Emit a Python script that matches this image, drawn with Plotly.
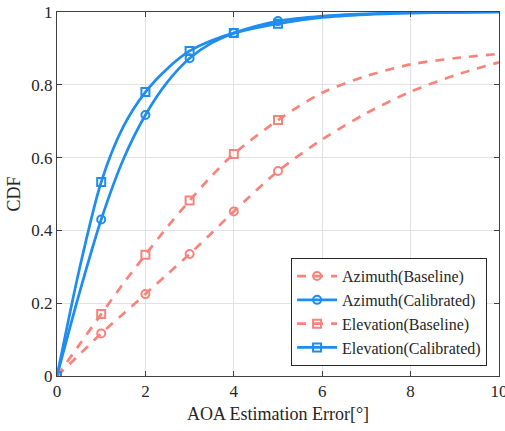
import plotly.graph_objects as go

x_curve = [0, 0.5, 1, 1.5, 2, 2.5, 3, 3.5, 4, 5, 6, 7, 8, 9, 10]
az_base = [0, 0.058, 0.117, 0.171, 0.225, 0.28, 0.335, 0.393, 0.452, 0.563, 0.65, 0.722, 0.781, 0.826, 0.862]
az_cal = [0, 0.225, 0.43, 0.595, 0.717, 0.808, 0.873, 0.915, 0.942, 0.975, 0.989, 0.995, 0.998, 0.999, 1.0]
el_base = [0, 0.085, 0.17, 0.254, 0.333, 0.41, 0.482, 0.55, 0.61, 0.703, 0.778, 0.824, 0.856, 0.873, 0.885]
el_cal = [0, 0.29, 0.533, 0.685, 0.78, 0.845, 0.893, 0.922, 0.942, 0.968, 0.985, 0.993, 0.997, 0.999, 1.0]
x_marks = [0, 1, 2, 3, 4, 5]

RED = "#F8837A"
BLUE = "#1E8CF0"
FONT = "Liberation Serif"
DASHED = "9px,8px"

series = [
    ("Azimuth(Baseline)", az_base, RED, DASHED, "circle-open"),
    ("Azimuth(Calibrated)", az_cal, BLUE, "solid", "circle-open"),
    ("Elevation(Baseline)", el_base, RED, DASHED, "square-open"),
    ("Elevation(Calibrated)", el_cal, BLUE, "solid", "square-open"),
]

fig = go.Figure()
for name, ys, col, dash, sym in series:
    fig.add_trace(go.Scatter(x=x_curve, y=ys, mode="lines", line=dict(color=col, width=2.7, dash=dash, shape="spline", smoothing=0.8),
                             showlegend=False, hoverinfo="skip"))
    ym = [ys[x_curve.index(v)] for v in x_marks]
    fig.add_trace(go.Scatter(x=x_marks, y=ym, mode="markers", showlegend=False,
                             marker=dict(symbol=sym, size=8, color=col, line=dict(width=2, color=col))))
for name, ys, col, dash, sym in series:
    fig.add_trace(go.Scatter(x=[None], y=[None], mode="lines+markers", name=name,
                             line=dict(color=col, width=2.7, dash=dash),
                             marker=dict(symbol=sym, size=8, color=col, line=dict(width=2, color=col))))

axis_common = dict(showline=True, linecolor="#404040", linewidth=1, mirror="ticks", ticks="inside", ticklen=5,
                   tickcolor="#404040", showgrid=True, gridcolor="#E2E2E2", gridwidth=1, zeroline=False,
                   ticklabeloverflow="allow", automargin=False,
                   tickfont=dict(family=FONT, size=17, color="#262626"))
fig.update_xaxes(range=[0, 10], tickvals=[0, 2, 4, 6, 8, 10], title=dict(text="AOA Estimation Error[°]", standoff=6,
                 font=dict(family=FONT, size=18, color="#262626")), **axis_common)
fig.update_yaxes(range=[0, 1], tickvals=[0, 0.2, 0.4, 0.6, 0.8, 1], ticktext=["0", "0.2", "0.4", "0.6", "0.8", "1"],
                 title=dict(text="CDF", standoff=6, font=dict(family=FONT, size=18, color="#262626")), **axis_common)
fig.update_layout(width=505, height=431, margin=dict(l=57, r=6, t=12, b=55), plot_bgcolor="white", paper_bgcolor="white",
                  font=dict(family=FONT),
                  legend=dict(x=0.973, y=0.027, xanchor="right", yanchor="bottom", bgcolor="white", bordercolor="#262626",
                              borderwidth=1, font=dict(family=FONT, size=16, color="#262626"),
                              tracegroupgap=0, itemwidth=40),
                  showlegend=True)
fig.write_html("out.html")
